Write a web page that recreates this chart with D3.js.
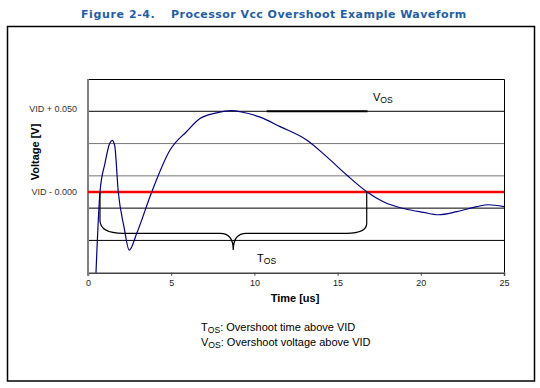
<!DOCTYPE html>
<html>
<head>
<meta charset="utf-8">
<script src="https://cdn.jsdelivr.net/npm/d3@7"></script>
<style>
  body { margin: 0; background: #fff; }
  svg { display: block; }
</style>
</head>
<body>
<div id="chart"></div>
<script>
// waveform (time in us, voltage relative to VID in V)
var timeUs = [0.48, 0.72, 1.02, 1.3, 1.45, 1.6, 1.82, 2.16, 2.48, 2.93, 3.83, 4.93, 5.93, 6.73, 7.73, 8.6, 9.3, 10.34, 11.54, 13.14, 14.34, 15.55, 16.75, 17.75, 19.15, 20.15, 21.05, 22.16, 23.36, 24.06, 25];
var voltage = [-0.05, 0, 0.0178, 0.030, 0.032, 0.029, 0, -0.0215, -0.036, -0.0256, 0, 0.026, 0.0375, 0.0455, 0.049, 0.0504, 0.0494, 0.0464, 0.0405, 0.0322, 0.0219, 0.0105, 0.0002, -0.006, -0.0107, -0.0126, -0.0141, -0.0122, -0.0091, -0.0079, -0.0091];

var xTicks = [0, 5, 10, 15, 20, 25];
var gridLevels = [0.05, 0.03, 0.01, -0.01, -0.03];
var yLabels = [{ v: 0.05, text: "VID + 0.050" }, { v: 0, text: "VID - 0.000" }];

// overshoot markers
var vidLevel = 0;
var vosStart = 10.74, vosEnd = 16.8, vosLevel = 0.05;
var braceStart = 0.72, braceEnd = 16.75, braceMid = 8.73, braceLevel = -0.0256, braceTip = -0.036;

var svg = d3.select("#chart").append("svg")
  .attr("width", 540)
  .attr("height", 388);

// title (two pieces, wide gap like the original)
var titleFont = "bold 11px 'DejaVu Sans', Verdana, sans-serif";
svg.append("text")
  .attr("x", 81).attr("y", 18)
  .style("font", titleFont).style("letter-spacing", "0.6px")
  .style("fill", "#1f5fa8")
  .text("Figure 2-4.");
svg.append("text")
  .attr("x", 171).attr("y", 18)
  .style("font", titleFont).style("letter-spacing", "0.45px")
  .style("fill", "#1f5fa8")
  .text("Processor Vcc Overshoot Example Waveform");

// outer frame
svg.append("rect")
  .attr("x", 7.5).attr("y", 26.5)
  .attr("width", 527).attr("height", 354.5)
  .style("fill", "none").style("stroke", "#000").style("stroke-width", 1.5);

var plotL = 88, plotR = 504, plotT = 79, plotB = 272.7;

var x = d3.scaleLinear().domain([0, 25]).range([plotL, plotR]);
var y = d3.scaleLinear().domain([-0.05, 0.07]).range([plotB, plotT]);

// plot border (top, right)
svg.append("path")
  .attr("d", "M" + plotL + "," + (y(0.07) + 0.5) + "H" + (plotR + 0.5) + "V" + plotB)
  .style("fill", "none").style("stroke", "#000").style("stroke-width", 1);

// gridlines
svg.selectAll(".grid")
  .data(gridLevels)
  .enter().append("line")
  .attr("class", "grid")
  .attr("x1", plotL).attr("x2", plotR)
  .attr("y1", function(d) { return y(d); })
  .attr("y2", function(d) { return y(d); })
  .style("stroke", function(d) { return (d == 0.03 || d == 0.01) ? "#777" : "#000"; })
  .style("stroke-width", 1);

// x axis
var xAxis = svg.append("g")
  .attr("transform", "translate(0," + plotB + ")")
  .call(d3.axisBottom(x).tickValues(xTicks).tickSize(3).tickPadding(4));
xAxis.select(".domain").style("stroke", "#444").style("stroke-width", 1.5);
xAxis.selectAll(".tick line").style("stroke", "#444");
xAxis.selectAll("text")
  .style("font", "9px 'Liberation Sans', Arial, sans-serif")
  .style("fill", "#222");

// y axis line
svg.append("line")
  .attr("x1", plotL).attr("x2", plotL)
  .attr("y1", plotT).attr("y2", plotB + 3)
  .style("stroke", "#808080").style("stroke-width", 2);

// y labels
svg.selectAll(".ylab")
  .data(yLabels)
  .enter().append("text")
  .attr("class", "ylab")
  .attr("x", 77)
  .attr("y", function(d, i) { return y(d.v) - (i == 0 ? 2.5 : 0); })
  .attr("dy", "0.35em")
  .attr("text-anchor", "end")
  .style("font", "9px 'Liberation Sans', Arial, sans-serif")
  .style("fill", "#333")
  .text(function(d) { return d.text; });

// axis titles
svg.append("text")
  .attr("transform", "translate(39,152) rotate(-90)")
  .attr("text-anchor", "middle")
  .style("font", "bold 11px 'Liberation Sans', Arial, sans-serif")
  .text("Voltage [V]");

svg.append("text")
  .attr("x", 295)
  .attr("y", 302)
  .attr("text-anchor", "middle")
  .style("font", "bold 11px 'Liberation Sans', Arial, sans-serif")
  .text("Time [us]");

// VID line
svg.append("line")
  .attr("x1", plotL).attr("x2", plotR)
  .attr("y1", y(vidLevel)).attr("y2", y(vidLevel))
  .style("stroke", "#ff0000").style("stroke-width", 2.5);

// brace for Tos
var xs = x(braceStart), xe = x(braceEnd), xm = x(braceMid);
var yl = y(braceLevel), yt = y(braceTip), y0 = y(vidLevel);
svg.append("path")
  .attr("d", "M" + xs + "," + y0 + "V" + (yl - 13) +
    "Q" + xs + "," + yl + " " + (xs + 23) + "," + yl +
    "H" + (xm - 13) +
    "Q" + xm + "," + yl + " " + xm + "," + yt +
    "Q" + xm + "," + yl + " " + (xm + 13) + "," + yl +
    "H" + (xe - 20) +
    "Q" + xe + "," + yl + " " + xe + "," + (yl - 10) +
    "V" + y0)
  .style("fill", "none").style("stroke", "#000").style("stroke-width", 1.2);

// Vos bar
svg.append("line")
  .attr("x1", x(vosStart)).attr("x2", x(vosEnd))
  .attr("y1", y(vosLevel)).attr("y2", y(vosLevel))
  .style("stroke", "#000").style("stroke-width", 2);

// waveform
var pts = timeUs.map(function(t, i) { return [t, voltage[i]]; });
var line = d3.line()
  .x(function(d) { return x(d[0]); })
  .y(function(d) { return y(d[1]); })
  .curve(d3.curveMonotoneX);

svg.append("path")
  .datum(pts)
  .attr("d", line)
  .style("fill", "none")
  .style("stroke", "#000080")
  .style("stroke-width", 1.2);

// labels with subscripts
function subLabel(g, xpos, ypos, main, rest, size) {
  var t = g.append("text")
    .attr("x", xpos).attr("y", ypos)
    .style("font", size + "px 'Liberation Sans', Arial, sans-serif")
    .style("fill", "#000");
  t.append("tspan").text(main);
  t.append("tspan").attr("dy", 2).style("font-size", (size * 0.78) + "px").text("OS");
  if (rest) t.append("tspan").attr("dy", -2).text(rest);
  return t;
}

subLabel(svg, 373, 101, "V", null, 11);
subLabel(svg, 257, 262, "T", null, 11);

subLabel(svg, 201, 331, "T", ": Overshoot time above VID", 11);
subLabel(svg, 201, 346, "V", ": Overshoot voltage above VID", 11);
</script>
</body>
</html>
